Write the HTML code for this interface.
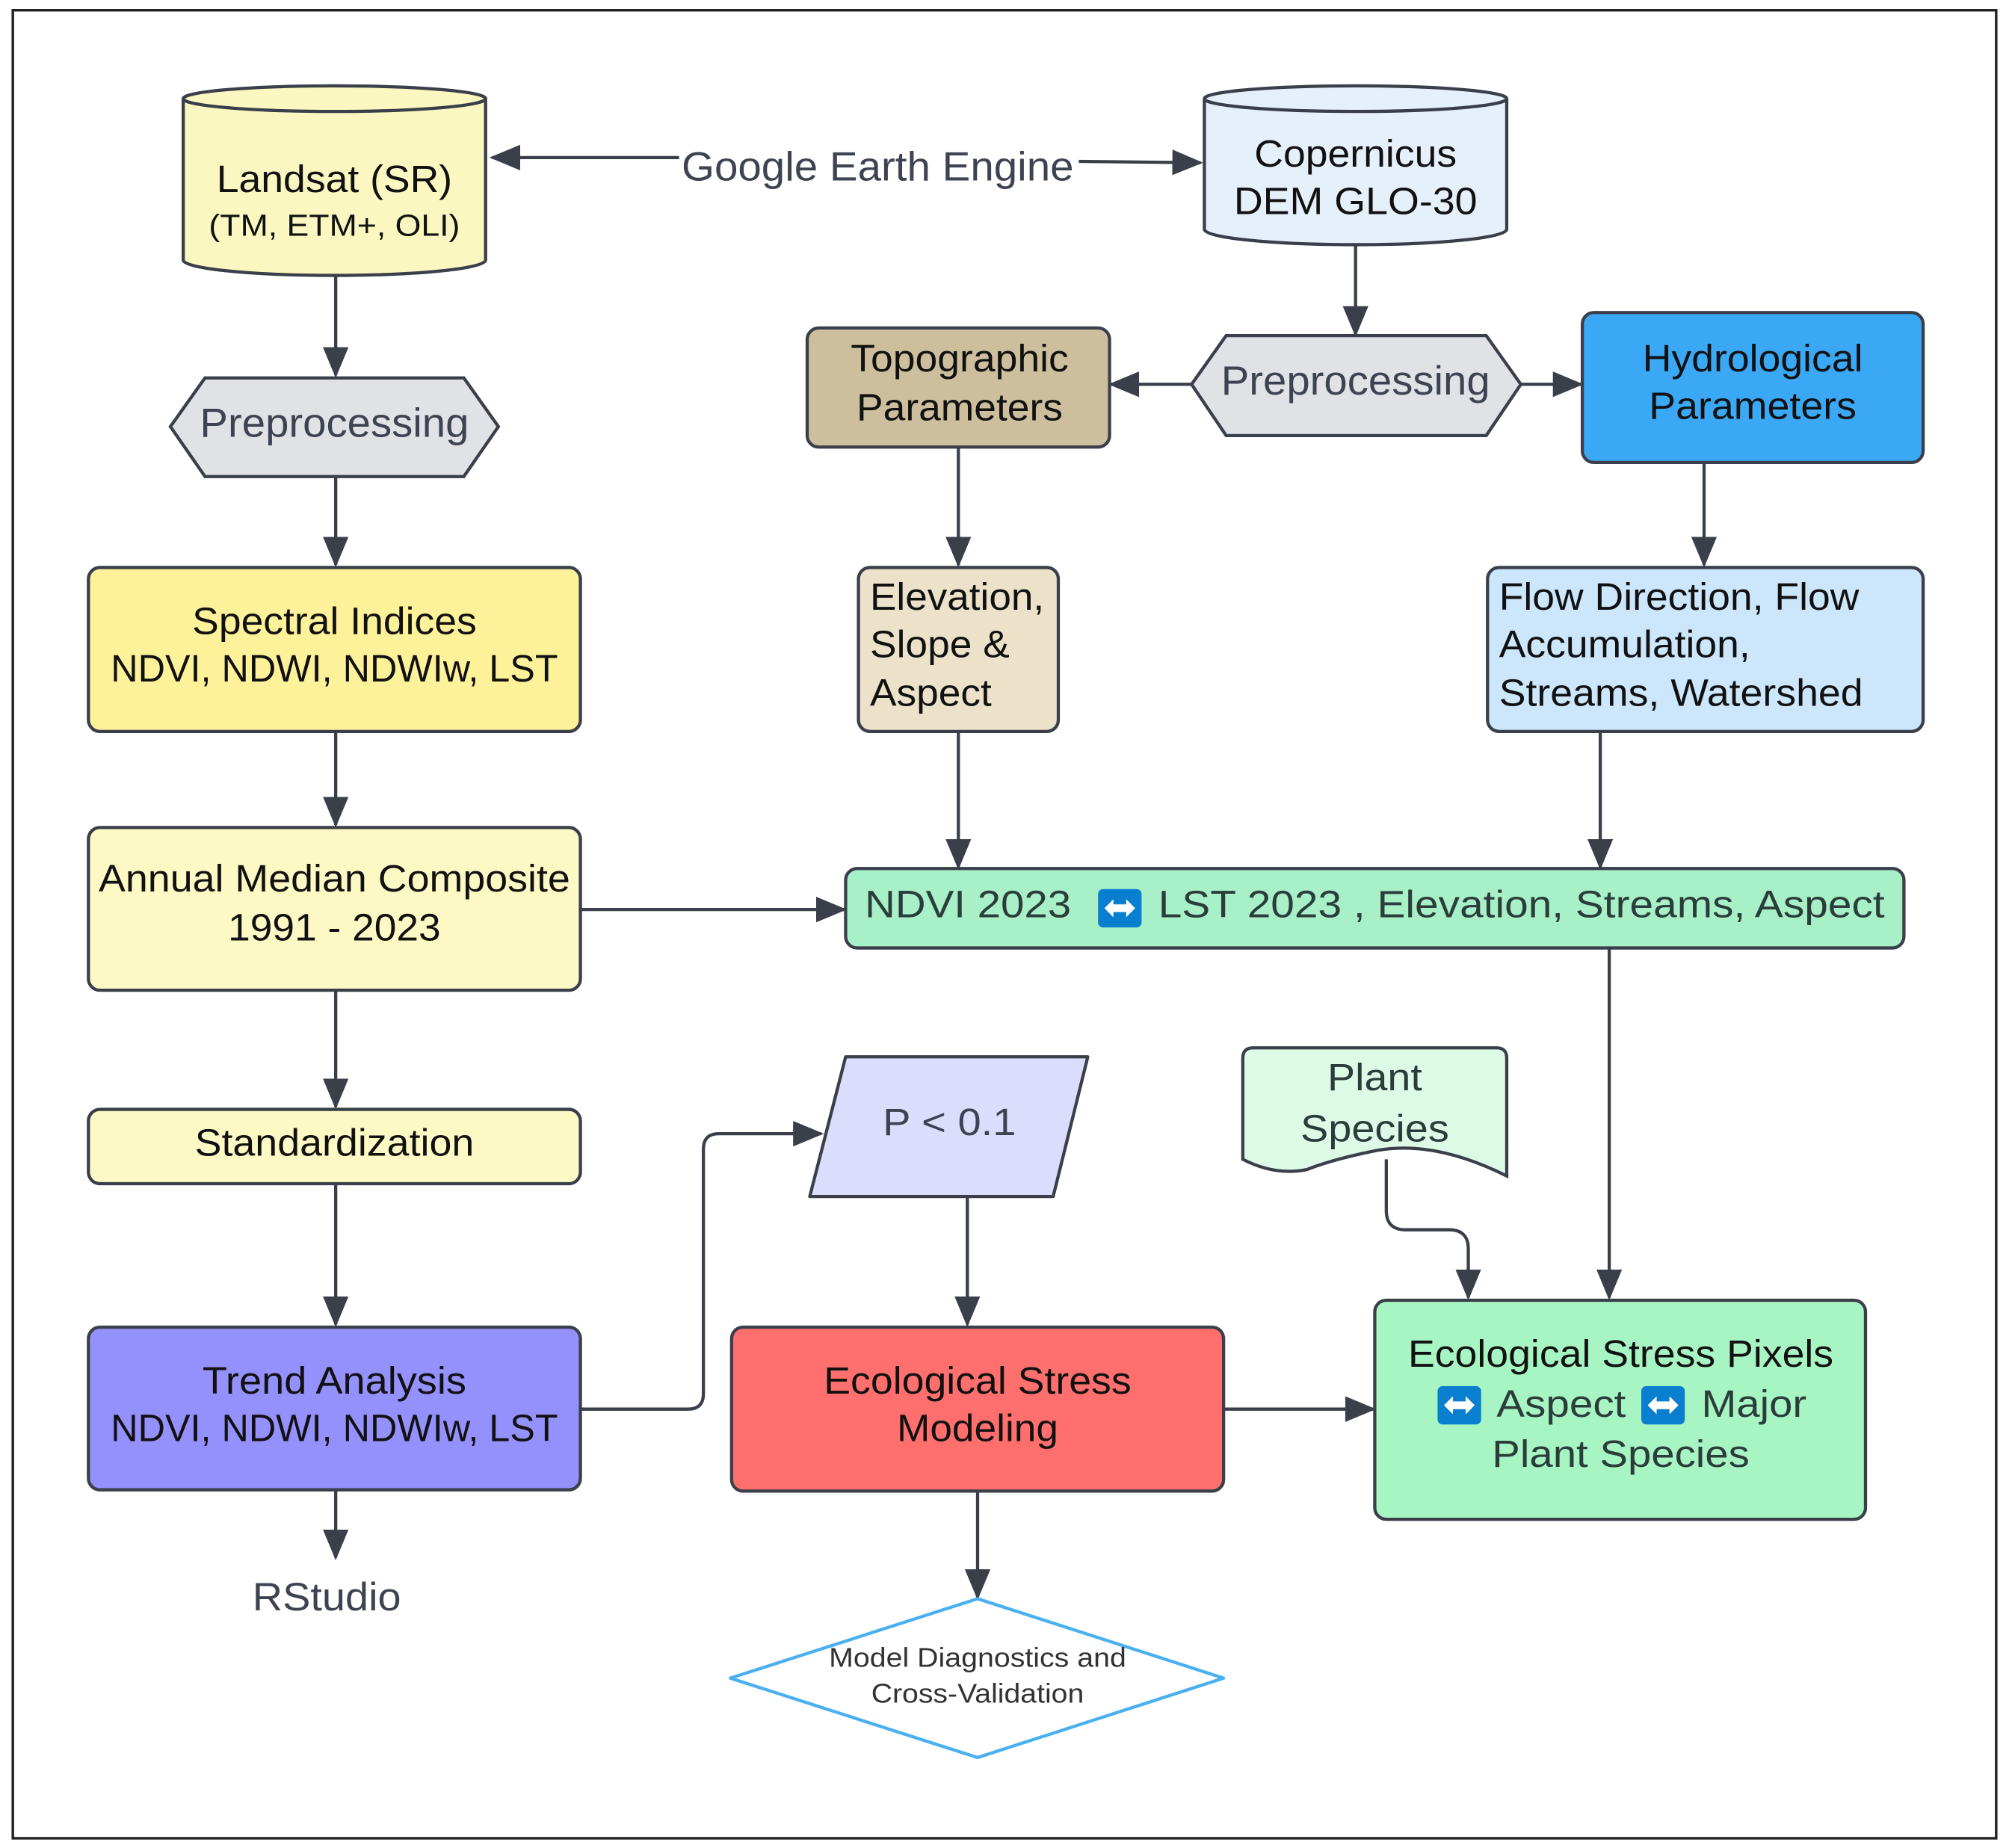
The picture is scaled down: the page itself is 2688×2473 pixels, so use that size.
<!DOCTYPE html>
<html><head><meta charset="utf-8"><style>
html,body{margin:0;padding:0;background:#fff;}
svg{display:block;}
text{font-family:"Liberation Sans",sans-serif;}
</style></head><body>
<svg width="2688" height="2473" viewBox="0 0 1568 1442.6" xmlns="http://www.w3.org/2000/svg">
<defs>
<marker id="ah" markerWidth="24" markerHeight="24" refX="22" refY="12" orient="auto" markerUnits="userSpaceOnUse" viewBox="0 0 24 24"><path d="M0,2 L24,12 L0,22 z" fill="#3a3f4a"/></marker>
<g id="ic"><rect x="0" y="0" width="34" height="30" rx="4" fill="#0a7fcf"/><path d="M5,15 L12,8 L12,12 L22,12 L22,8 L29,15 L22,22 L22,18 L12,18 L12,22 z" fill="#fff"/></g>
</defs>
<rect x="10" y="8" width="1548" height="1427" fill="#fff" stroke="#222" stroke-width="2"/>
<g stroke="#3a3f4a" stroke-width="2.5" fill="none" marker-end="url(#ah)">
<line x1="530" y1="123" x2="384" y2="123"/>
<line x1="842" y1="126" x2="937" y2="127"/>
<line x1="262" y1="212" x2="262" y2="293"/>
<line x1="262" y1="372" x2="262" y2="441"/>
<line x1="262" y1="571" x2="262" y2="644"/>
<line x1="262" y1="773" x2="262" y2="864"/>
<line x1="262" y1="924" x2="262" y2="1034"/>
<line x1="262" y1="1163" x2="262" y2="1216"/>
<line x1="1058" y1="188" x2="1058" y2="261"/>
<line x1="930" y1="300" x2="867" y2="300"/>
<line x1="1187" y1="300" x2="1234" y2="300"/>
<line x1="748" y1="349" x2="748" y2="441"/>
<line x1="1330" y1="361" x2="1330" y2="441"/>
<line x1="748" y1="571" x2="748" y2="677"/>
<line x1="1249" y1="571" x2="1249" y2="677"/>
<line x1="453" y1="710" x2="659" y2="710"/>
<line x1="1256" y1="740" x2="1256" y2="1013"/>
<path d="M453,1100 L537,1100 Q549,1100 549,1088 L549,897 Q549,885 561,885 L641,885"/>
<line x1="755" y1="934" x2="755" y2="1034"/>
<line x1="955" y1="1100" x2="1072" y2="1100"/>
<line x1="763" y1="1164" x2="763" y2="1247"/>
<path d="M1082,905 L1082,945 Q1082,960 1097,960 L1131,960 Q1146,960 1146,975 L1146,1013"/>
</g>
<g stroke="#3a3f4a" stroke-width="2.5">
<path d="M143,77 L143,203 A118,12 0 0 0 379,203 L379,77" fill="#fbf7c0"/>
<ellipse cx="261" cy="77" rx="118" ry="10" fill="#fbf7c0"/>
<path d="M940,77 L940,179 A118,12 0 0 0 1176,179 L1176,77" fill="#e6f0fb"/>
<ellipse cx="1058" cy="77" rx="118" ry="10" fill="#e6f0fb"/>
<polygon points="160,295 362,295 389,333 362,372 160,372 133,333" fill="#e0e2e6"/>
<polygon points="957,262 1160,262 1187,300 1160,340 957,340 930,300" fill="#e0e2e6"/>
<rect x="69" y="443" width="384" height="128" rx="9" fill="#fdf29a"/>
<rect x="69" y="646" width="384" height="127" rx="9" fill="#fdf9c4"/>
<rect x="69" y="866" width="384" height="58" rx="9" fill="#fdf9c4"/>
<rect x="69" y="1036" width="384" height="127" rx="9" fill="#9490fc"/>
<rect x="630" y="256" width="236" height="93" rx="9" fill="#cdbf9d"/>
<rect x="1235" y="244" width="266" height="117" rx="9" fill="#3aa8f5"/>
<rect x="670" y="443" width="156" height="128" rx="9" fill="#ebe2c9"/>
<rect x="1161" y="443" width="340" height="128" rx="9" fill="#cce6fb"/>
<rect x="660" y="678" width="826" height="62" rx="9" fill="#a8f0c8"/>
<polygon points="660,825 849,825 822,934 632,934" fill="#dcdcfc" stroke-linejoin="round"/>
<rect x="571" y="1036" width="384" height="128" rx="9" fill="#fe6f6d"/>
<path d="M978,818 L1168,818 Q1176,818 1176,826 L1176,918 Q1120,890 1075,898 Q1040,905 1020,913 Q995,918 970,905 L970,826 Q970,818 978,818 z" fill="#dcfae6"/>
<rect x="1073" y="1015" width="383" height="171" rx="9" fill="#a8f5c4"/>
</g>
<polygon points="763,1248 955,1310 763,1372 570,1310" fill="#fff" stroke="#4ab0f0" stroke-width="2.5" stroke-linejoin="round"/>
<g font-size="30" fill="#111" text-anchor="middle" lengthAdjust="spacingAndGlyphs">
<text x="261" y="150" textLength="184" lengthAdjust="spacingAndGlyphs">Landsat (SR)</text>
<text x="261" y="184" font-size="24" textLength="196" lengthAdjust="spacingAndGlyphs">(TM, ETM+, OLI)</text>
<text x="1058" y="130" textLength="158" lengthAdjust="spacingAndGlyphs">Copernicus</text>
<text x="1058" y="167" textLength="190" lengthAdjust="spacingAndGlyphs">DEM GLO-30</text>
<text x="685" y="141" font-size="32" fill="#3d4350" textLength="306" lengthAdjust="spacingAndGlyphs">Google Earth Engine</text>
<text x="261" y="341" font-size="32" fill="#3d4350" textLength="210" lengthAdjust="spacingAndGlyphs">Preprocessing</text>
<text x="1058" y="308" font-size="32" fill="#3d4350" textLength="210" lengthAdjust="spacingAndGlyphs">Preprocessing</text>
<text x="261" y="495" textLength="222" lengthAdjust="spacingAndGlyphs">Spectral Indices</text>
<text x="261" y="532" textLength="349" lengthAdjust="spacingAndGlyphs">NDVI, NDWI, NDWIw, LST</text>
<text x="261" y="696" textLength="368" lengthAdjust="spacingAndGlyphs">Annual Median Composite</text>
<text x="261" y="734" textLength="166" lengthAdjust="spacingAndGlyphs">1991 - 2023</text>
<text x="261" y="902" textLength="218" lengthAdjust="spacingAndGlyphs">Standardization</text>
<text x="261" y="1088" textLength="206" lengthAdjust="spacingAndGlyphs">Trend Analysis</text>
<text x="261" y="1125" textLength="349" lengthAdjust="spacingAndGlyphs">NDVI, NDWI, NDWIw, LST</text>
<text x="255" y="1257" font-size="31" fill="#3d4350" textLength="116" lengthAdjust="spacingAndGlyphs">RStudio</text>
<text x="749" y="290" textLength="170" lengthAdjust="spacingAndGlyphs">Topographic</text>
<text x="749" y="328" textLength="161" lengthAdjust="spacingAndGlyphs">Parameters</text>
<text x="1368" y="290" textLength="172" lengthAdjust="spacingAndGlyphs">Hydrological</text>
<text x="1368" y="327" textLength="162" lengthAdjust="spacingAndGlyphs">Parameters</text>
<g text-anchor="start">
<text x="679" y="476" textLength="136" lengthAdjust="spacingAndGlyphs">Elevation,</text>
<text x="679" y="513" textLength="109" lengthAdjust="spacingAndGlyphs">Slope &amp;</text>
<text x="679" y="551" textLength="95" lengthAdjust="spacingAndGlyphs">Aspect</text>
<text x="1170" y="476" textLength="281" lengthAdjust="spacingAndGlyphs">Flow Direction, Flow</text>
<text x="1170" y="513" textLength="196" lengthAdjust="spacingAndGlyphs">Accumulation,</text>
<text x="1170" y="551" textLength="284" lengthAdjust="spacingAndGlyphs">Streams, Watershed</text>
<text x="675" y="716" fill="#2b3d3a" textLength="161" lengthAdjust="spacingAndGlyphs">NDVI 2023</text>
<text x="904" y="716" fill="#2b3d3a" textLength="567" lengthAdjust="spacingAndGlyphs">LST 2023 , Elevation, Streams, Aspect</text>
<text x="1168" y="1106" fill="#2b3d3a" textLength="101" lengthAdjust="spacingAndGlyphs">Aspect</text>
<text x="1328" y="1106" fill="#2b3d3a" textLength="82" lengthAdjust="spacingAndGlyphs">Major</text>
</g>
<text x="741" y="886" fill="#3d4350" textLength="104" lengthAdjust="spacingAndGlyphs">P &lt; 0.1</text>
<text x="763" y="1088" textLength="240" lengthAdjust="spacingAndGlyphs">Ecological Stress</text>
<text x="763" y="1125" textLength="126" lengthAdjust="spacingAndGlyphs">Modeling</text>
<text x="1073" y="851" fill="#2b3d3a" textLength="74" lengthAdjust="spacingAndGlyphs">Plant</text>
<text x="1073" y="891" fill="#2b3d3a" textLength="116" lengthAdjust="spacingAndGlyphs">Species</text>
<text x="1265" y="1067" textLength="332" lengthAdjust="spacingAndGlyphs">Ecological Stress Pixels</text>
<text x="1265" y="1145" fill="#2b3d3a" textLength="201" lengthAdjust="spacingAndGlyphs">Plant Species</text>
<text x="763" y="1301" font-size="21" fill="#333" textLength="232" lengthAdjust="spacingAndGlyphs">Model Diagnostics and</text>
<text x="763" y="1329" font-size="21" fill="#333" textLength="166" lengthAdjust="spacingAndGlyphs">Cross-Validation</text>
</g>
<use href="#ic" x="857" y="694"/>
<use href="#ic" x="1122" y="1082"/>
<use href="#ic" x="1281" y="1082"/>
</svg>
</body></html>
